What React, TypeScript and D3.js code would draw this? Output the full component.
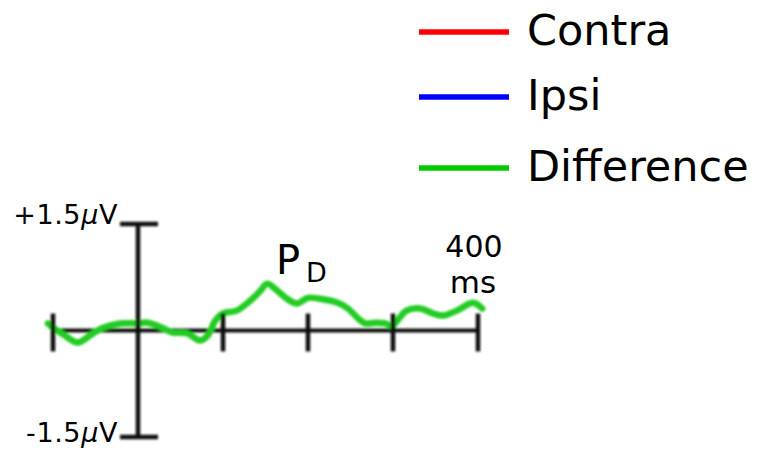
import React from "react";
import * as d3 from "d3";

// Time points (ms) and contra-minus-ipsi difference wave (µV)
const timesMs = [
  -106, -100, -86, -71, -53, -41, -21, -1, 11, 22, 35, 41, 58, 73, 82, 91, 100,
  116, 132, 144, 152, 161, 175, 187, 200, 212, 235, 247, 259, 267, 279, 291, 299,
  305, 316, 332, 347, 359, 375, 394, 405,
];
const differenceUv = [
  0.1, 0.04, -0.07, -0.17, -0.04, 0.04, 0.1, 0.1, 0.11, 0.07, 0.0, -0.03, -0.04,
  -0.14, -0.07, 0.14, 0.24, 0.28, 0.42, 0.56, 0.66, 0.59, 0.45, 0.38, 0.46, 0.45,
  0.39, 0.31, 0.17, 0.1, 0.11, 0.1, 0.06, 0.14, 0.28, 0.31, 0.24, 0.21, 0.28,
  0.39, 0.31,
];

const xTicksMs = [-100, 0, 100, 200, 300, 400];
const yLimitsUv = [-1.5, 1.5];
const yLabels = ["-1.5", "+1.5"];

const legendNames = ["Contra", "Ipsi", "Difference"];
const legendColors = ["#ff0000", "#0000ff", "#00cc00"];

const W = 776;
const H = 450;

export default function App() {
  const x = d3.scaleLinear().domain([-100, 400]).range([53, 478]);
  const y = d3.scaleLinear().domain([-1.5, 1.5]).range([437, 224]);

  const line = d3
    .line<number>()
    .x((_, i) => x(timesMs[i]))
    .y((d) => y(d))
    .curve(d3.curveCatmullRom.alpha(0.5));

  const axisColor = "#111";
  const font = "'DejaVu Sans', sans-serif";
  const y0 = y(0);
  const capHalf = 18;

  return (
    <svg
      width={W}
      height={H}
      style={{ position: "absolute", left: 0, top: 0, background: "#fff" }}
    >
      <defs>
        <filter id="soft" x="-5%" y="-20%" width="110%" height="140%">
          <feGaussianBlur stdDeviation="0.8" />
        </filter>
      </defs>

      {/* Legend */}
      {legendNames.map((name, i) => {
        const ly = [32, 97, 168][i];
        return (
          <g key={name}>
            <line
              x1={419}
              x2={509}
              y1={ly}
              y2={ly}
              stroke={legendColors[i]}
              strokeWidth={5.5}
            />
            <text
              x={527}
              y={ly + 13}
              fontFamily={font}
              fontSize={43}
              fill="#000"
            >
              {name}
            </text>
          </g>
        );
      })}

      {/* Waveform and axes */}
      <g filter="url(#soft)">
        <line
          x1={x(-100)}
          x2={x(400)}
          y1={y0}
          y2={y0}
          stroke={axisColor}
          strokeWidth={4}
        />
        <path
          d={line(differenceUv) ?? ""}
          fill="none"
          stroke="#20cc20"
          strokeWidth={6.5}
          strokeLinejoin="round"
          strokeLinecap="round"
        />
        {xTicksMs
          .filter((t) => t !== 0)
          .map((t) => (
            <line
              key={t}
              x1={x(t)}
              x2={x(t)}
              y1={y0 - 17}
              y2={y0 + 21}
              stroke={axisColor}
              strokeWidth={4.5}
            />
          ))}
        <line
          x1={x(0)}
          x2={x(0)}
          y1={y(yLimitsUv[1])}
          y2={y(yLimitsUv[0])}
          stroke={axisColor}
          strokeWidth={4.5}
        />
        {yLimitsUv.map((v) => (
          <line
            key={v}
            x1={x(0) - capHalf}
            x2={x(0) + capHalf + 2}
            y1={y(v)}
            y2={y(v)}
            stroke={axisColor}
            strokeWidth={4.5}
          />
        ))}
      </g>

      {/* Voltage labels */}
      {yLimitsUv.map((v, i) => (
        <text
          key={v}
          x={118}
          y={y(v) + (v > 0 ? 0 : 5)}
          textAnchor="end"
          fontFamily={font}
          fontSize={27}
          letterSpacing={0.6}
          fill="#000"
        >
          {yLabels[i]}
          <tspan fontStyle="italic">μ</tspan>V
        </text>
      ))}

      {/* Time label at the last tick */}
      <text
        x={x(400) - 4}
        y={257}
        textAnchor="middle"
        fontFamily={font}
        fontSize={30}
        fill="#000"
      >
        {xTicksMs[xTicksMs.length - 1]}
      </text>
      <text
        x={x(400) - 5}
        y={293}
        textAnchor="middle"
        fontFamily={font}
        fontSize={31}
        fill="#000"
      >
        ms
      </text>

      {/* Component label */}
      <text x={276} y={274} fontFamily={font} fontSize={40} fill="#000">
        P
      </text>
      <text x={306} y={282} fontFamily={font} fontSize={27} fill="#000">
        D
      </text>
    </svg>
  );
}
